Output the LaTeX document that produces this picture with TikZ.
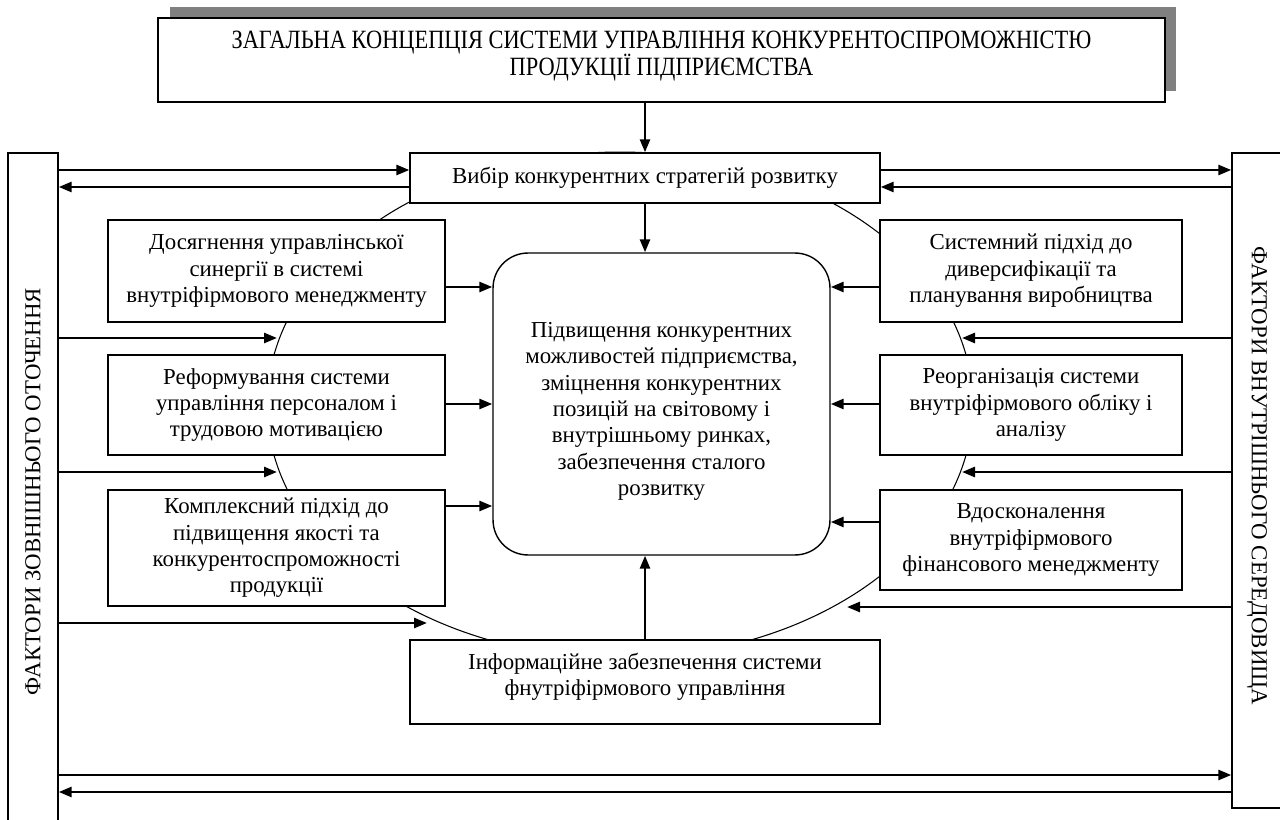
\documentclass[tikz,border=0pt]{standalone}
\usepackage{fontspec}
\setmainfont{Liberation Serif}
\usetikzlibrary{arrows.meta,calc}
\definecolor{shadowgray}{HTML}{808080}
\newcommand{\narrow}[1]{\scalebox{0.85}[1]{#1}}
\begin{document}
\begin{tikzpicture}[x=0.02cm,y=-0.02cm,
  box/.style={draw, line width=0.8pt, fill=white, align=center, inner sep=0pt, font=\fontsize{13}{15}\selectfont},
  bar/.style={draw, line width=0.8pt, inner sep=0pt, font=\fontsize{13}{15}\selectfont},
  txt/.style={align=center, inner sep=0pt, font=\fontsize{13}{15}\selectfont},
  conn/.style={line width=1.5pt, -{Triangle[length=0.26cm,width=0.2cm]}},
  ring/.style={line width=0.6pt},
]
\useasboundingbox (0,0) rectangle (1280,820);

% ellipse behind everything
\draw[ring] (620,405) ellipse [x radius=7.06cm, y radius=5.06cm];

% top box with shadow
\fill[shadowgray] (170,7) rectangle (1176,91);
\node[box, minimum width=20.14cm, minimum height=1.68cm] (top) at (661.5,60) {};
\node[txt, font=\fontsize{15}{15.6}\selectfont] (topT) at (661.5,56) {\narrow{ЗАГАЛЬНА КОНЦЕПЦІЯ СИСТЕМИ УПРАВЛІННЯ КОНКУРЕНТОСПРОМОЖНІСТЮ}\\\narrow{ПРОДУКЦІЇ ПІДПРИЄМСТВА}};

% bars
\node[bar, rotate=90, minimum width=13.54cm, minimum height=1.0cm] (Lbar) at (33,491.5) {ФАКТОРИ ЗОВНІШНЬОГО ОТОЧЕННЯ};
\node[bar, rotate=-90, minimum width=13.1cm, minimum height=1.02cm] (Rbar) at (1257.5,480.5) {};
\node[txt, rotate=-90] (RbarT) at (1257,476) {ФАКТОРИ ВНУТРІШНЬОГО СЕРЕДОВИЩА};

% boxes
\node[box, minimum width=9.4cm, minimum height=1.0cm] (vybir) at (645,178) {Вибір конкурентних стратегій розвитку};
\node[box, rounded corners=0.7cm, minimum width=6.74cm, minimum height=6.04cm] (core) at (661.5,404) {};
\node[txt] (coreT) at (661.5,411.5) {Підвищення конкурентних\\можливостей підприємства,\\зміцнення конкурентних\\позицій на світовому і\\внутрішньому ринках,\\забезпечення сталого\\розвитку};
\node[box, minimum width=6.74cm, minimum height=2.04cm] (L1) at (276.5,271) {Досягнення управлінської\\синергії в системі\\внутріфірмового менеджменту};
\node[box, minimum width=6.74cm, minimum height=2.0cm] (L2) at (276.5,405) {Реформування системи\\управління персоналом і\\трудовою мотивацією};
\node[box, minimum width=6.74cm, minimum height=2.32cm] (L3) at (276.5,548) {Комплексний підхід до\\підвищення якості та\\конкурентоспроможності\\продукції};
\node[box, minimum width=6.04cm, minimum height=2.04cm] (R1) at (1031,271) {Системний підхід до\\диверсифікації та\\планування виробництва};
\node[box, minimum width=6.04cm, minimum height=2.0cm] (R2) at (1031,405) {Реорганізація системи\\внутріфірмового обліку і\\аналізу};
\node[box, minimum width=6.04cm, minimum height=2.0cm] (R3) at (1031,540) {Вдосконалення\\внутріфірмового\\фінансового менеджменту};
\node[box, minimum width=9.4cm, minimum height=1.68cm] (info) at (645,682) {};
\node[txt] (infoT) at (645,677) {Інформаційне забезпечення системи\\фнутріфірмового управління};

% vertical connectors
\draw[conn] (top.south -| vybir.north) -- (vybir.north);
\draw[conn] (vybir.south) -- (vybir.south |- core.north);
\draw[conn] (info.north) -- (info.north |- core.south);

% side boxes to core
\draw[conn] (L1.east |- 0,287) -- (core.west |- 0,287);
\draw[conn] (L2.east |- 0,404) -- (core.west |- 0,404);
\draw[conn] (L3.east |- 0,506) -- (core.west |- 0,506);
\draw[conn] (R1.west |- 0,287) -- (core.east |- 0,287);
\draw[conn] (R2.west |- 0,404) -- (core.east |- 0,404);
\draw[conn] (R3.west |- 0,522) -- (core.east |- 0,522);

% bars and vybir
\draw[conn] (Lbar.south |- 0,170) -- (vybir.west |- 0,170);
\draw[conn] (vybir.west |- 0,187) -- (Lbar.south |- 0,187);
\draw[conn] (vybir.east |- 0,170) -- (Rbar.south |- 0,170);
\draw[conn] (Rbar.south |- 0,187) -- (vybir.east |- 0,187);

% bars to ellipse
\coordinate (e1) at (277,338);
\coordinate (e2) at (277,472);
\coordinate (e3) at (427,623);
\coordinate (e4) at (962,338);
\coordinate (e5) at (962,472);
\coordinate (e6) at (847,607);
\draw[conn] (Lbar.south |- e1) -- (e1);
\draw[conn] (Lbar.south |- e2) -- (e2);
\draw[conn] (Lbar.south |- e3) -- (e3);
\draw[conn] (Rbar.south |- e4) -- (e4);
\draw[conn] (Rbar.south |- e5) -- (e5);
\draw[conn] (Rbar.south |- e6) -- (e6);

% bottom pair
\draw[conn] (Lbar.south |- 0,775) -- (Rbar.south |- 0,775);
\draw[conn] (Rbar.south |- 0,792) -- (Lbar.south |- 0,792);
\end{tikzpicture}
\end{document}
